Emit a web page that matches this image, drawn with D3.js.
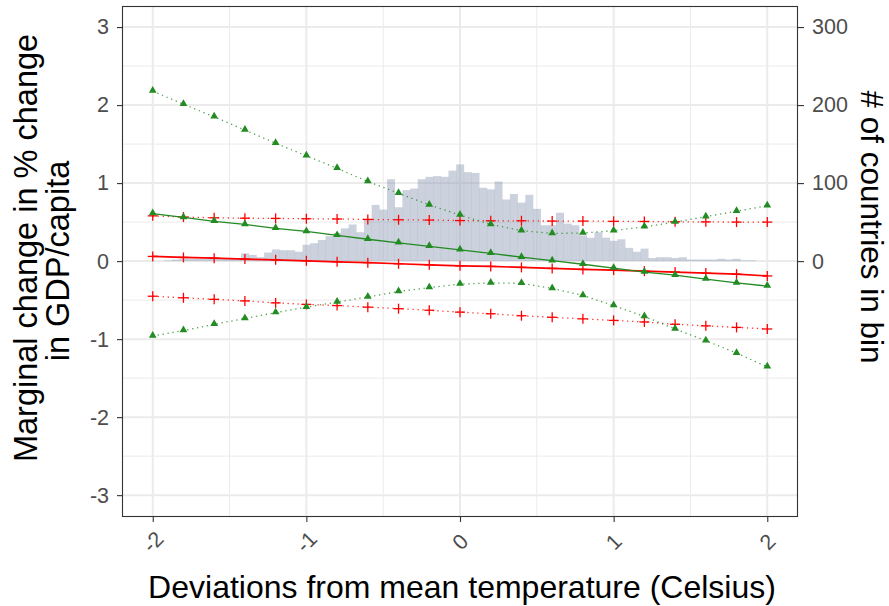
<!DOCTYPE html>
<html>
<head>
<meta charset="utf-8">
<script src="https://cdn.jsdelivr.net/npm/d3@7"></script>
<style>
  html, body { margin: 0; padding: 0; background: #ffffff; }
  svg { display: block; font-family: "Liberation Sans", Arial, Helvetica, sans-serif; }
</style>
</head>
<body>
<svg id="chart" width="889" height="606"></svg>
<script>
// ---------------- DATA ----------------
const xValues = [-2.0, -1.8, -1.6, -1.4, -1.2, -1.0, -0.8, -0.6, -0.4, -0.2, 0.0,
                 0.2, 0.4, 0.6, 0.8, 1.0, 1.2, 1.4, 1.6, 1.8, 2.0];

// linear model (red, "+")
const linFit   = [0.06, 0.047, 0.038, 0.026, 0.017, 0.004, -0.009, -0.02, -0.034, -0.047, -0.06,
                  -0.068, -0.08, -0.094, -0.107, -0.115, -0.128, -0.14, -0.154, -0.167, -0.19];
const linUpper = [0.58, 0.565, 0.555, 0.55, 0.547, 0.543, 0.54, 0.534, 0.53, 0.526, 0.52,
                  0.517, 0.517, 0.513, 0.513, 0.51, 0.508, 0.504, 0.503, 0.50, 0.50];
const linLower = [-0.45, -0.47, -0.49, -0.51, -0.535, -0.555, -0.57, -0.59, -0.61, -0.63, -0.654,
                  -0.675, -0.70, -0.72, -0.74, -0.76, -0.78, -0.81, -0.83, -0.85, -0.87];

// quadratic model (green, triangles)
const quadFit   = [0.61, 0.56, 0.51, 0.47, 0.42, 0.38, 0.33, 0.28, 0.235, 0.19, 0.145,
                   0.10, 0.05, 0.005, -0.04, -0.09, -0.14, -0.18, -0.23, -0.28, -0.32];
const quadUpper = [2.18, 2.01, 1.85, 1.68, 1.51, 1.35, 1.19, 1.02, 0.87, 0.72, 0.59,
                   0.47, 0.39, 0.355, 0.36, 0.39, 0.44, 0.50, 0.57, 0.64, 0.71];
const quadLower = [-0.96, -0.89, -0.81, -0.735, -0.66, -0.59, -0.525, -0.46, -0.39, -0.34, -0.295,
                   -0.28, -0.285, -0.35, -0.44, -0.57, -0.71, -0.87, -1.02, -1.18, -1.355];

// histogram of temperature deviations (bin width 0.05, first bin starts at -1.925)
const histStart = -1.925;
const histBinWidth = 0.05;
const histCounts = [1, 2, 3, 3, 3, 3, 4, 3, 3, 4,
                    10, 8, 5, 11, 15, 14, 14, 12, 21, 23,
                    27, 32, 36, 42, 47, 37, 54, 72, 66, 105,
                    69, 91, 93, 105, 108, 109, 108, 116, 124, 114,
                    113, 94, 92, 102, 79, 86, 75, 85, 67, 46,
                    46, 62, 48, 46, 33, 30, 37, 30, 26, 28,
                    17, 12, 16, 4, 5, 5, 4, 5, 2, 2,
                    2, 2, 3, 2, 3, 1, 1];

const xTicks = [-2, -1, 0, 1, 2];
const xMinor = [-1.5, -0.5, 0.5, 1.5];
const yTicks = [-3, -2, -1, 0, 1, 2, 3];
const yMinor = [-2.5, -1.5, -0.5, 0.5, 1.5, 2.5];
const countTicks = [0, 100, 200, 300];

const xTitle = "Deviations from mean temperature (Celsius)";
const yTitleLines = ["Marginal change in % change", "in GDP/capita"];
const y2Title = "# of countries in bin";

// ---------------- LAYOUT ----------------
const panel = { left: 122, right: 798, top: 6, bottom: 517 };
const svg = d3.select("#chart");

const x = d3.scaleLinear().domain([-2.2, 2.2]).range([panel.left, panel.right]);
const y = d3.scaleLinear().domain([-3.28, 3.27]).range([panel.bottom, panel.top]);
// secondary axis: 100 countries = 1 unit
const yCount = d3.scaleLinear().domain([-328, 327]).range([panel.bottom, panel.top]);

const gridCol = "#ebebeb";
const red = "#ff0000";
const green = "#228b22";
const fmt = d => String(d);

svg.append("rect")
  .attr("x", panel.left).attr("y", panel.top)
  .attr("width", panel.right - panel.left).attr("height", panel.bottom - panel.top)
  .attr("fill", "#ffffff");

const grid = svg.append("g");
grid.selectAll(".gxm").data(xMinor).join("line")
  .attr("x1", d => x(d)).attr("x2", d => x(d))
  .attr("y1", panel.top).attr("y2", panel.bottom)
  .attr("stroke", gridCol).attr("stroke-width", 1);
grid.selectAll(".gym").data(yMinor).join("line")
  .attr("y1", d => y(d)).attr("y2", d => y(d))
  .attr("x1", panel.left).attr("x2", panel.right)
  .attr("stroke", gridCol).attr("stroke-width", 1);
grid.selectAll(".gx").data(xTicks).join("line")
  .attr("x1", d => x(d)).attr("x2", d => x(d))
  .attr("y1", panel.top).attr("y2", panel.bottom)
  .attr("stroke", gridCol).attr("stroke-width", 2);
grid.selectAll(".gy").data(yTicks).join("line")
  .attr("y1", d => y(d)).attr("y2", d => y(d))
  .attr("x1", panel.left).attr("x2", panel.right)
  .attr("stroke", gridCol).attr("stroke-width", 2);

// histogram
svg.append("g").selectAll("rect").data(histCounts).join("rect")
  .attr("x", (d, i) => x(histStart + i * histBinWidth))
  .attr("width", (d, i) => x(histStart + (i + 1) * histBinWidth) - x(histStart + i * histBinWidth) + 0.3)
  .attr("y", d => yCount(d))
  .attr("height", d => yCount(0) - yCount(d))
  .attr("fill", "#8f9bb3")
  .attr("fill-opacity", 0.45);

// lines
function series(vals, color, dashed, sw) {
  const line = d3.line().x((d, i) => x(xValues[i])).y(d => y(d));
  svg.append("path").datum(vals)
    .attr("d", line)
    .attr("fill", "none")
    .attr("stroke", color)
    .attr("stroke-width", sw)
    .attr("stroke-opacity", dashed ? 0.8 : 1)
    .attr("stroke-dasharray", dashed ? "1.3,3.7" : null);
}
function plusMarks(vals) {
  const g = svg.append("g");
  g.selectAll("line.h").data(vals).join("line")
    .attr("x1", (d, i) => x(xValues[i]) - 5).attr("x2", (d, i) => x(xValues[i]) + 5)
    .attr("y1", d => y(d)).attr("y2", d => y(d))
    .attr("stroke", red).attr("stroke-width", 1.3);
  g.selectAll("line.v").data(vals).join("line")
    .attr("x1", (d, i) => x(xValues[i])).attr("x2", (d, i) => x(xValues[i]))
    .attr("y1", d => y(d) - 5).attr("y2", d => y(d) + 5)
    .attr("stroke", red).attr("stroke-width", 1.3);
}
function triMarks(vals) {
  svg.append("g").selectAll("path").data(vals).join("path")
    .attr("d", d3.symbol().type(d3.symbolTriangle).size(26)())
    .attr("transform", (d, i) => `translate(${x(xValues[i])},${y(d) - 0.5})`)
    .attr("fill", green);
}

series(linUpper, red, true, 1.3);
series(linLower, red, true, 1.3);
series(linFit, red, false, 1.7);
plusMarks(linUpper);
plusMarks(linLower);
plusMarks(linFit);

series(quadUpper, green, true, 1.3);
series(quadLower, green, true, 1.3);
series(quadFit, green, false, 1.3);
triMarks(quadUpper);
triMarks(quadLower);
triMarks(quadFit);

// panel border
svg.append("rect")
  .attr("x", panel.left + 0.5).attr("y", panel.top + 0.5)
  .attr("width", panel.right - panel.left - 1).attr("height", panel.bottom - panel.top - 1)
  .attr("fill", "none").attr("stroke", "#333333").attr("stroke-width", 1.1);

// axes
const tickCol = "#333333";
const labCol = "#4d4d4d";
const tickFont = 21.5;

const yAxis = svg.append("g").attr("transform", `translate(${panel.left},0)`)
  .call(d3.axisLeft(y).tickValues(yTicks).tickSize(5).tickPadding(8).tickFormat(fmt));
const y2Axis = svg.append("g").attr("transform", `translate(${panel.right},0)`)
  .call(d3.axisRight(yCount).tickValues(countTicks).tickSize(6).tickPadding(8).tickFormat(fmt));
const xAxis = svg.append("g").attr("transform", `translate(0,${panel.bottom})`)
  .call(d3.axisBottom(x).tickValues(xTicks).tickSize(5).tickFormat(fmt));

[yAxis, y2Axis, xAxis].forEach(a => {
  a.select(".domain").remove();
  a.selectAll(".tick line").attr("stroke", tickCol).attr("stroke-width", 1.1);
  a.selectAll(".tick text").attr("fill", labCol).style("font-size", tickFont + "px")
    .style("font-family", '"Liberation Sans", Arial, sans-serif');
});
xAxis.selectAll(".tick text")
  .attr("y", 0).attr("dy", null)
  .attr("text-anchor", "middle")
  .attr("dominant-baseline", "central")
  .attr("transform", "translate(0,25) rotate(-45)");

// titles
svg.append("text")
  .attr("x", 462).attr("y", 598)
  .attr("text-anchor", "middle")
  .attr("fill", "#000").style("font-size", "32px")
  .text(xTitle);

const yTitleCenters = [248, 261];
const yTitleBase = [37, 69];
svg.append("g").selectAll("text").data(yTitleLines).join("text")
  .attr("transform", (d, i) => `translate(${yTitleBase[i]},${yTitleCenters[i]}) rotate(-90)`)
  .attr("text-anchor", "middle")
  .attr("fill", "#000").style("font-size", "32.5px")
  .text(d => d);

svg.append("text")
  .attr("transform", `translate(861,${227}) rotate(90)`)
  .attr("text-anchor", "middle")
  .attr("fill", "#000").style("font-size", "31.5px")
  .text(y2Title);
</script>
</body>
</html>
